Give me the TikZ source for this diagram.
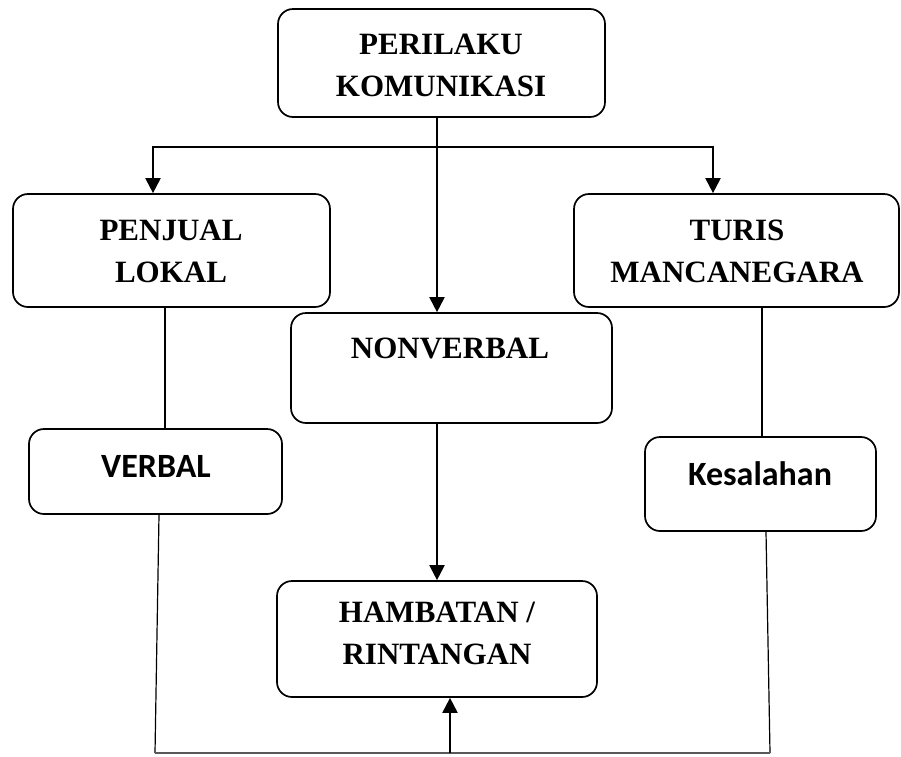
\documentclass[tikz,border=0pt]{standalone}
\usepackage{fontspec}
\setmainfont{Liberation Serif}
\newfontfamily\calfont{Carlito}
\usetikzlibrary{arrows.meta}
\tikzset{
  box/.style={draw, line width=1.7pt, rounded corners=15pt, inner sep=0pt},
  serif/.style={font=\fontsize{31}{42}\selectfont\bfseries, align=center, inner sep=0pt},
  calib/.style={font=\fontsize{34}{40}\selectfont\calfont\bfseries, inner sep=0pt, anchor=base},
  arr/.style={line width=2pt, -{Triangle[width=15pt,length=15pt]}},
  thinline/.style={line width=1.2pt},
  baseline/.style={line width=1.5pt, draw=black!65}
}
\begin{document}
\begin{tikzpicture}[x=1pt,y=-1pt]
\useasboundingbox (0,0) rectangle (901,756);
% boxes
\node[box, minimum width=327pt, minimum height=108pt] (top) at (441.5,63) {};
\node[box, minimum width=317pt, minimum height=113pt] (pj) at (171.5,250.5) {};
\node[box, minimum width=325pt, minimum height=113pt] (tr) at (736.5,250.5) {};
\node[box, minimum width=321pt, minimum height=110pt] (nv) at (451.5,368) {};
\node[box, minimum width=253pt, minimum height=85pt] (vb) at (155.5,471.5) {};
\node[box, minimum width=231pt, minimum height=94pt] (ks) at (760.5,484) {};
\node[box, minimum width=320pt, minimum height=116pt] (hb) at (437,639) {};
% texts
\node[serif] (ttop) at (441,65.75) {PERILAKU\\KOMUNIKASI};
\node[serif] (tpj) at (171,251) {PENJUAL\\LOKAL};
\node[serif] (ttr) at (737,251) {TURIS\\MANCANEGARA};
\node[serif, anchor=base] (tnv) at (450,358) {NONVERBAL};
\node[serif] (thb) at (437,633.75) {HAMBATAN /\\RINTANGAN};
\node[calib] (tvb) at (156,477) {VERBAL};
\node[calib] (tks) at (760,485) {Kesalahan};
% connectors
\coordinate (j) at (437,147);
\coordinate (bl) at (155,753);
\coordinate (br) at (770,753);
\draw[arr] (top.south -| hb.north) -- (nv.north -| hb.north);
\draw[arr] (j) -| ([xshift=-18.5pt]pj.north);
\draw[arr] (j) -| ([xshift=-23.5pt]tr.north);
\draw[arr] (nv.south -| hb.north) -- (hb.north);
\draw[thinline] ([xshift=-6.5pt]pj.south) -- ([xshift=-6.5pt]pj.south |- vb.north);
\draw[thinline] ([xshift=25.5pt]tr.south) -- ([xshift=25.5pt]tr.south |- ks.north);
\draw[thinline] ([xshift=3.5pt]vb.south) -- (bl);
\draw[thinline] ([xshift=5.5pt]ks.south) -- (br);
\draw[baseline] (bl) -- (br);
\draw[arr] ([xshift=13pt]hb.south |- bl) -- ([xshift=13pt]hb.south);
\end{tikzpicture}
\end{document}
